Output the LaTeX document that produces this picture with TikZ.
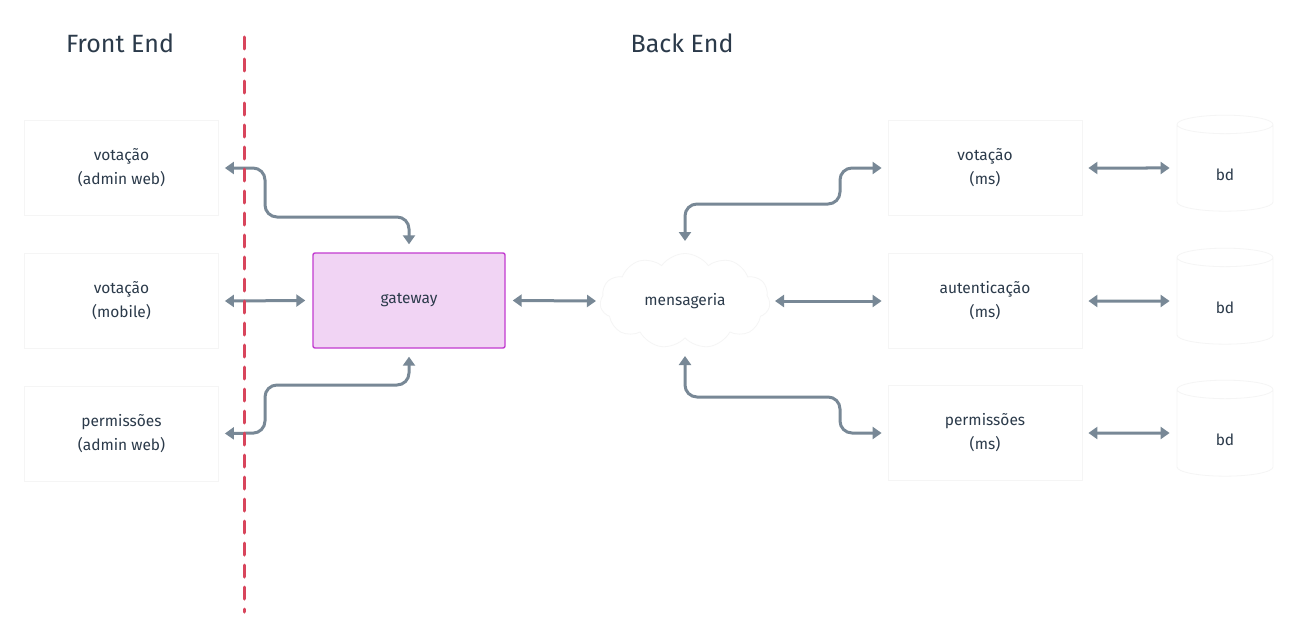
\documentclass[tikz,border=0pt]{standalone}
\usepackage{fontspec}
\setmainfont{Fira Sans}
\usetikzlibrary{arrows.meta,shapes.geometric,shapes.symbols,calc}
\definecolor{txt}{HTML}{2B3A4A}
\definecolor{conn}{HTML}{788896}
\definecolor{sep}{HTML}{D8455C}
\definecolor{gwfill}{HTML}{F1D4F4}
\definecolor{gwdraw}{HTML}{C23BD0}
\definecolor{faint}{HTML}{F5F5F5}
\tikzset{
  box/.style={draw=faint, line width=0.8pt, fill=white, minimum width=194pt, minimum height=95pt,
    align=center, font=\fontsize{15.5}{24}\selectfont, text=txt, inner sep=0pt},
  gwbox/.style={box, draw=gwdraw, fill=gwfill, line width=1.4pt, rounded corners=2pt, minimum width=192pt},
  dbcyl/.style={cylinder, shape border rotate=90, aspect=1, draw=faint, line width=0.8pt, fill=white,
    minimum width=96pt, minimum height=96pt, font=\fontsize{15.5}{24}\selectfont, text=txt, inner sep=0pt,
    text height=25pt, text depth=0pt},
  msgcloud/.style={cloud, cloud puffs=11, cloud puff arc=110, aspect=1.8, draw=faint, line width=0.8pt, fill=white,
    minimum width=170pt, minimum height=95pt, font=\fontsize{15.5}{24}\selectfont, text=txt, inner sep=0pt},
  title/.style={font=\fontsize{25}{28}\selectfont, text=txt},
  conn/.style={draw=conn, line width=3pt, rounded corners=12pt,
    {Triangle[length=9pt,width=12pt]}-{Triangle[length=9pt,width=12pt]}},
}
\begin{document}
\begin{tikzpicture}[x=1pt,y=-1pt]
\useasboundingbox[fill=white] (0,0) rectangle (1298,642);
% titles
\node[title] (fe) at (120,43) {Front End};
\node[title] (be) at (682,43) {Back End};
% front end boxes
\node[box] (va) at (121.5,168) {votação\\(admin web)};
\node[box] (vm) at (121.5,301) {votação\\(mobile)};
\node[box] (pa) at (121.5,433.5) {permissões\\(admin web)};
% gateway
\node[gwbox] (gw) at (409,300.5) {gateway};
% mensageria
\node[msgcloud] (ms) at (685,301) {mensageria};
% back end services
\node[box] (vs) at (985,168) {votação\\(ms)};
\node[box] (as) at (985,301) {autenticação\\(ms)};
\node[box] (ps) at (985,433) {permissões\\(ms)};
% databases
\node[dbcyl] (db1) at (1225,168) {bd};
\node[dbcyl] (db2) at (1225,301) {bd};
\node[dbcyl] (db3) at (1225,433) {bd};
% connectors
\draw[conn] ([xshift=6pt]va.east) -- (265,168) -- (265,217) -- (409,217) -- ([yshift=8pt]gw.north);
\draw[conn] ([xshift=6pt]vm.east) -- ([xshift=-7pt]gw.west);
\draw[conn] ([xshift=6pt]pa.east) -- (265,433) -- (265,385) -- (409,385) -- ([yshift=-8pt]gw.south);
\draw[conn] ([xshift=7pt]gw.east) -- ([xshift=-89pt]ms.center);
\draw[conn] ([xshift=90pt]ms.center) -- ([xshift=-6pt]as.west);
\draw[conn] ([yshift=60pt]ms.center) -- (685,204) -- (840,204) -- (840,168) -- ([xshift=-6pt]vs.west);
\draw[conn] ([yshift=-55pt]ms.center) -- (685,397) -- (840,397) -- (840,433) -- ([xshift=-6pt]ps.west);
\draw[conn] ([xshift=6pt]vs.east) -- ([xshift=-7pt]db1.west);
\draw[conn] ([xshift=6pt]as.east) -- ([xshift=-7pt]db2.west);
\draw[conn] ([xshift=6pt]ps.east) -- ([xshift=-7pt]db3.west);
% separator (drawn over the connectors)
\coordinate (sepTop) at (244,37);
\coordinate (sepBot) at (244,612);
\draw[sep, line width=3pt, line cap=round, dash pattern=on 12pt off 10pt] (sepTop) -- (sepBot);
\end{tikzpicture}
\end{document}
